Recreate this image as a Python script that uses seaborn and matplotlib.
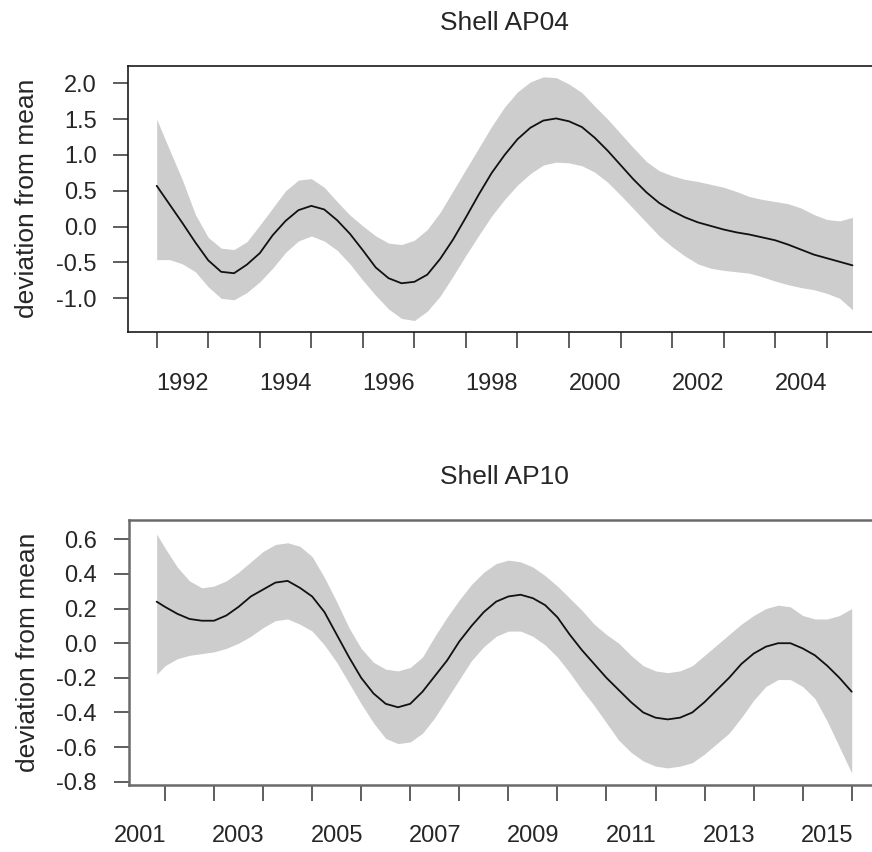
import numpy as np
import matplotlib
matplotlib.use("Agg")
import matplotlib.pyplot as plt
import seaborn as sns

# ---------------- data: Shell AP04 ----------------
years_ap04 = np.round(np.arange(1992.0, 2005.51, 0.25), 2)
fit_ap04 = [0.57, 0.31, 0.05, -0.22, -0.47, -0.63, -0.65, -0.53, -0.37, -0.12,
            0.08, 0.23, 0.29, 0.24, 0.09, -0.10, -0.33, -0.57, -0.72, -0.79,
            -0.77, -0.67, -0.45, -0.18, 0.13, 0.45, 0.75, 1.00, 1.22, 1.38,
            1.48, 1.51, 1.47, 1.39, 1.24, 1.06, 0.86, 0.66, 0.48, 0.33,
            0.22, 0.13, 0.06, 0.01, -0.04, -0.08, -0.11, -0.15, -0.19, -0.25,
            -0.32, -0.39, -0.44, -0.49, -0.54]
upper_ap04 = [1.50, 1.07, 0.65, 0.17, -0.15, -0.30, -0.32, -0.21, 0.02, 0.26,
              0.50, 0.65, 0.67, 0.55, 0.35, 0.16, 0.01, -0.13, -0.23, -0.25,
              -0.19, -0.04, 0.20, 0.50, 0.80, 1.10, 1.40, 1.67, 1.88, 2.02,
              2.09, 2.08, 1.99, 1.87, 1.68, 1.50, 1.30, 1.10, 0.91, 0.78,
              0.71, 0.66, 0.63, 0.59, 0.55, 0.49, 0.42, 0.38, 0.35, 0.32,
              0.26, 0.17, 0.10, 0.08, 0.13]
lower_ap04 = [-0.46, -0.46, -0.52, -0.63, -0.84, -1.00, -1.02, -0.92, -0.77, -0.58,
              -0.36, -0.20, -0.13, -0.20, -0.33, -0.52, -0.75, -0.96, -1.15, -1.28,
              -1.31, -1.18, -0.97, -0.69, -0.40, -0.12, 0.15, 0.38, 0.58, 0.74,
              0.86, 0.90, 0.89, 0.85, 0.76, 0.62, 0.44, 0.25, 0.06, -0.13,
              -0.28, -0.41, -0.52, -0.58, -0.61, -0.63, -0.65, -0.70, -0.76, -0.81,
              -0.85, -0.88, -0.93, -1.00, -1.16]
xticks_ap04 = list(range(1992, 2006))
xlabels_ap04 = ["1992", "1994", "1996", "1998", "2000", "2002", "2004"]
yticks_ap04 = [-1.0, -0.5, 0.0, 0.5, 1.0, 1.5, 2.0]
ylabels_ap04 = ["-1.0", "-0.5", "0.0", "0.5", "1.0", "1.5", "2.0"]

# ---------------- data: Shell AP10 ----------------
years_ap10 = np.array([2001.83] + list(np.round(np.arange(2002.0, 2016.01, 0.25), 2)))
fit_ap10 = [0.24, 0.21, 0.17, 0.14, 0.13, 0.13, 0.16, 0.21, 0.27, 0.31,
            0.35, 0.36, 0.32, 0.27, 0.18, 0.05, -0.08, -0.20, -0.29, -0.35,
            -0.37, -0.35, -0.28, -0.19, -0.10, 0.01, 0.10, 0.18, 0.24, 0.27,
            0.28, 0.26, 0.22, 0.15, 0.05, -0.04, -0.12, -0.20, -0.27, -0.34,
            -0.40, -0.43, -0.44, -0.43, -0.40, -0.34, -0.27, -0.20, -0.12, -0.06,
            -0.02, 0.00, 0.00, -0.03, -0.07, -0.13, -0.20, -0.28]
upper_ap10 = [0.63, 0.55, 0.44, 0.36, 0.32, 0.33, 0.36, 0.41, 0.47, 0.53,
              0.57, 0.58, 0.56, 0.50, 0.38, 0.24, 0.09, -0.03, -0.11, -0.15,
              -0.16, -0.14, -0.08, 0.04, 0.15, 0.25, 0.34, 0.41, 0.46, 0.48,
              0.47, 0.44, 0.39, 0.33, 0.26, 0.19, 0.11, 0.05, 0.00, -0.07,
              -0.13, -0.16, -0.17, -0.16, -0.13, -0.07, -0.01, 0.05, 0.11, 0.16,
              0.20, 0.22, 0.21, 0.16, 0.14, 0.14, 0.16, 0.20]
lower_ap10 = [-0.18, -0.13, -0.09, -0.07, -0.06, -0.05, -0.03, 0.00, 0.04, 0.09,
              0.13, 0.14, 0.11, 0.07, -0.01, -0.11, -0.23, -0.35, -0.46, -0.55,
              -0.58, -0.57, -0.52, -0.43, -0.32, -0.21, -0.10, -0.02, 0.04, 0.07,
              0.07, 0.04, -0.01, -0.08, -0.17, -0.27, -0.36, -0.46, -0.56, -0.63,
              -0.68, -0.71, -0.72, -0.71, -0.69, -0.64, -0.58, -0.52, -0.43, -0.33,
              -0.25, -0.21, -0.21, -0.25, -0.32, -0.45, -0.60, -0.75]
xticks_ap10 = list(range(2002, 2017))
xlabels_ap10 = ["2001", "2003", "2005", "2007", "2009", "2011", "2013", "2015"]
yticks_ap10 = [-0.8, -0.6, -0.4, -0.2, 0.0, 0.2, 0.4, 0.6]
ylabels_ap10 = ["-0.8", "-0.6", "-0.4", "-0.2", "0.0", "0.2", "0.4", "0.6"]

titles = ["Shell AP04", "Shell AP10"]
ylabel_text = "deviation from mean"

# ---------------- style ----------------
sns.set_style("ticks")
plt.rcParams["font.family"] = ["Liberation Sans", "DejaVu Sans"]
TXT = "#262626"
BAND = "#cdcdcd"

W, H = 872, 852
fig = plt.figure(figsize=(W / 100, H / 100), dpi=100)


def px_axes(l, r, t, b):
    return [l / W, 1 - b / H, (r - l) / W, (b - t) / H]


ax1 = fig.add_axes(px_axes(128.3, 881.4, 65.7, 331.7))
ax2 = fig.add_axes(px_axes(128.5, 880.7, 520.0, 784.5))

panels = [
    (ax1, years_ap04, fit_ap04, upper_ap04, lower_ap04, xticks_ap04, xlabels_ap04,
     yticks_ap04, ylabels_ap04, (1991.449, 2006.061), (-1.466, 2.246), "#1a1a1a", 1.2),
    (ax2, years_ap10, fit_ap10, upper_ap10, lower_ap10, xticks_ap10, xlabels_ap10,
     yticks_ap10, ylabels_ap10, (2001.256, 2016.591), (-0.816, 0.7116), "#6a6a6a", 1.8),
]

for i, (ax, xs, fit, up, lo, xt, xl, yt, yl, xlim, ylim, spc, splw) in enumerate(panels):
    ax.fill_between(xs, lo, up, color=BAND, linewidth=0, zorder=1)
    sns.lineplot(x=xs, y=fit, ax=ax, color="#111111", linewidth=1.3, zorder=3)
    ax.set_xlim(*xlim)
    ax.set_ylim(*ylim)

    # year-boundary ticks (unlabelled) and mid-year labels
    ax.set_xticks(xt)
    ax.set_xticklabels([])
    lab_pos = [int(s) + 0.5 for s in xl]
    ax.set_xticks(lab_pos, minor=True)
    ax.set_xticklabels(xl, minor=True)
    ax.tick_params(axis="x", which="major", direction="out", length=11.3, width=1.1,
                   color="#333333")
    ax.tick_params(axis="x", which="minor", length=0, pad=29.5, labelsize=17,
                   labelcolor=TXT)

    ax.set_yticks(yt)
    ax.set_yticklabels(yl)
    ax.tick_params(axis="y", which="major", direction="out", length=10.8, width=1.1,
                   color="#333333", pad=12, labelsize=17, labelcolor=TXT)

    for s in ax.spines.values():
        s.set_visible(True)
        s.set_color(spc)
        s.set_linewidth(splw)

    ax.set_title(titles[i], fontsize=19, color=TXT, pad=26)
    ax.set_ylabel(ylabel_text, fontsize=19, color=TXT)
    ax.yaxis.set_label_coords(-0.118, 0.5)
    ax.grid(False)

fig.savefig("out.png", dpi=100)
